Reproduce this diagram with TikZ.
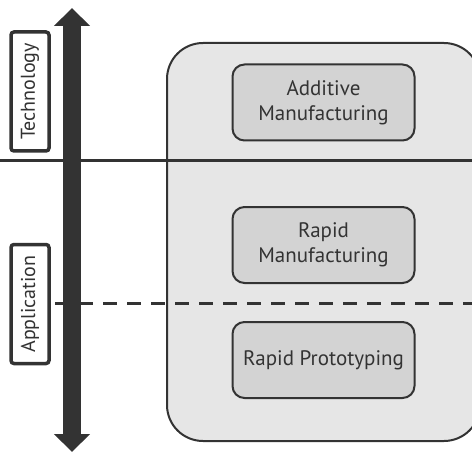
\documentclass[tikz,border=0pt]{standalone}
\usepackage{fontspec}
\setmainfont{PT Sans}
\usepackage{tikz}
\usetikzlibrary{arrows.meta,positioning,calc}
\definecolor{darkline}{RGB}{51,51,51}
\definecolor{panelgray}{RGB}{230,230,230}
\definecolor{boxgray}{RGB}{211,211,211}

\begin{document}
\begin{tikzpicture}[x=1pt, y=-1pt,
    panel/.style={draw=darkline, line width=2pt, fill=panelgray, rounded corners=36pt},
    term/.style={rectangle, draw=darkline, line width=2pt, fill=boxgray, rounded corners=12pt,
        minimum width=182pt, minimum height=76pt, align=center, text=darkline,
        font=\fontsize{21}{25}\selectfont},
    axislabel/.style={rectangle, draw=darkline, line width=3.5pt, fill=white, rounded corners=3pt,
        rotate=90, minimum width=119pt, minimum height=38pt, inner sep=0pt, text=darkline,
        font=\fontsize{20}{23}\selectfont}
]
    \useasboundingbox (0,0) rectangle (472,452);
    \begin{scope}
    \clip (0,0) rectangle (472,452);
    \draw[panel] (167,43) rectangle (480,441);
    \end{scope}

    \node[term] (am) at (323.5,102.5) {Additive\\Manufacturing};
    \node[term] (rm) at (323.5,245) {Rapid\\Manufacturing};
    \node[term] (rp) at (323.5,360) {Rapid Prototyping};

    % borders between levels
    \coordinate (solidL) at (0,161);
    \coordinate (solidR) at (472,161);
    \coordinate (dashL) at (55,303);
    \coordinate (dashR) at (472,303);
    \draw[darkline, line width=3pt] (solidL) -- (solidR);
    \draw[darkline, line width=3pt, dash pattern=on 14pt off 10pt] (dashL) -- (dashR);

    % axis
    \coordinate (top) at (72,8);
    \coordinate (bot) at (72,452);
    \draw[darkline, line width=18pt,
        {Triangle[width=35pt,length=18pt]}-{Triangle[width=35pt,length=18pt]}] (bot) -- (top);

    \node[axislabel] (tech) at (30,91.5) {Technology};
    \node[axislabel] (appl) at (30,304) {Application};
\end{tikzpicture}
\end{document}
